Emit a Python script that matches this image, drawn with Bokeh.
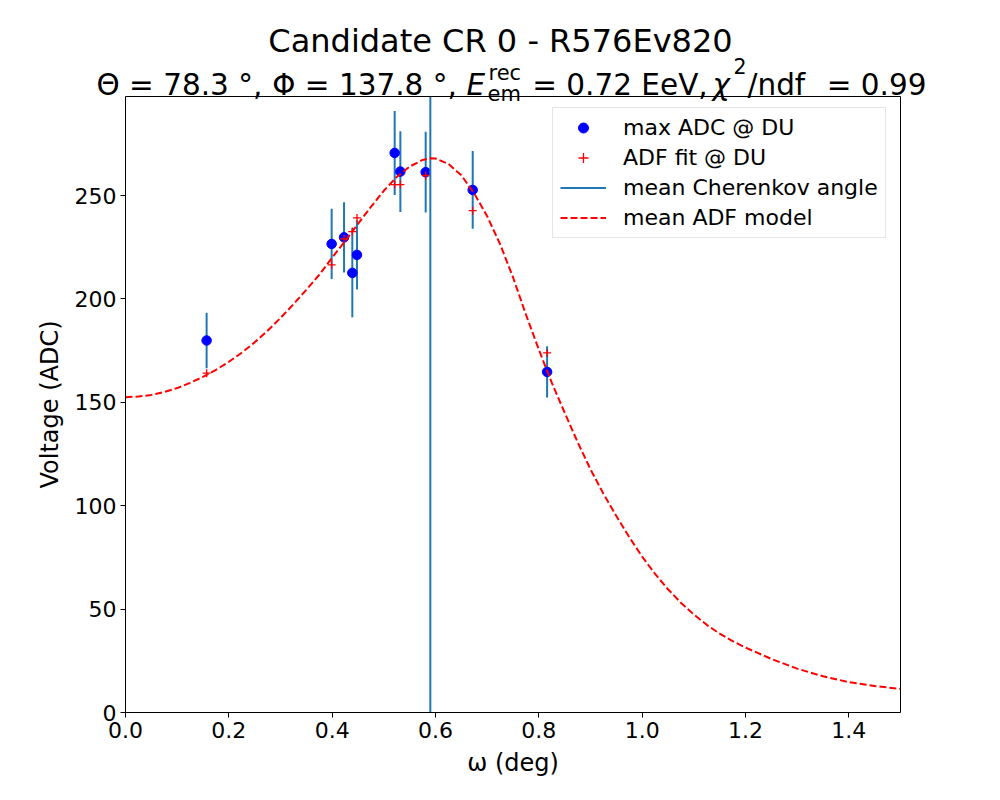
from bokeh.plotting import figure
from bokeh.models import (Range1d, FixedTicker, Label, Legend, LegendItem,
                          NumeralTickFormatter, LinearAxis)
from bokeh.embed import file_html
from bokeh.resources import INLINE

# ---------------- data ----------------
omega_du = [0.157, 0.399, 0.423, 0.439, 0.448, 0.521, 0.532, 0.581, 0.672, 0.816]
adc_max = [179.9, 226.6, 229.8, 212.6, 221.3, 270.6, 261.6, 261.3, 252.7, 164.7]
adc_err = [13.4, 17.0, 17.0, 21.5, 16.7, 20.3, 19.5, 19.5, 18.8, 12.4]
adf_fit = [164.1, 216.5, 229.0, 232.6, 239.2, 255.3, 255.3, 259.7, 242.7, 173.9]
cherenkov_angle = [0.590]

model_omega = [0.0, 0.025, 0.05, 0.075, 0.1, 0.125, 0.15, 0.175, 0.2, 0.225, 0.25, 0.275,
               0.3, 0.325, 0.35, 0.375, 0.4, 0.425, 0.45, 0.475, 0.5, 0.525, 0.55, 0.575,
               0.59, 0.6, 0.625, 0.65, 0.675, 0.7, 0.725, 0.75, 0.775, 0.8, 0.825, 0.85,
               0.875, 0.9, 0.925, 0.95, 0.975, 1.0, 1.025, 1.05, 1.075, 1.1, 1.125, 1.15,
               1.175, 1.2, 1.25, 1.3, 1.35, 1.4, 1.45, 1.5]
model_adc = [152.5, 152.8, 153.6, 155.0, 156.9, 159.4, 162.3, 165.7, 169.6, 174.0, 179.0, 184.6,
             190.8, 197.4, 204.4, 211.7, 220.0, 228.0, 236.3, 244.5, 252.3, 259.0, 264.0, 267.2,
             268.0, 267.9, 265.3, 259.8, 251.0, 240.0, 226.5, 210.5, 192.5, 175.5, 159.5, 145.0,
             130.8, 117.6, 105.8, 95.0, 84.8, 75.4, 67.0, 59.6, 53.1, 47.4, 42.4, 38.1,
             34.5, 31.4, 25.9, 21.2, 17.5, 14.7, 12.8, 11.4]

x_ticks = [0.0, 0.2, 0.4, 0.6, 0.8, 1.0, 1.2, 1.4]
y_ticks = [0, 50, 100, 150, 200, 250]

legend_labels = ["max ADC @ DU", "ADF fit @ DU", "mean Cherenkov angle", "mean ADF model"]

# ---------------- layout ----------------
X0, X1 = 0.0, 1.5           # axes box limits
Y0, Y1 = 0.0, 297.9
FONT = "DejaVu Sans"
W, H = 984, 792             # canvas
BOX_L, BOX_R = 125, 900     # axes box on the page (pixels)
BOX_T, BOX_B = 96, 712
KX = (BOX_R - BOX_L) / (X1 - X0)
KY = (BOX_B - BOX_T) / (Y1 - Y0)


def fx(px):
    return X0 + (px - BOX_L) / KX


def fy(py):
    return Y0 + (BOX_B - py) / KY


# the plotting frame covers the whole canvas; axes are drawn at fixed locations
p = figure(width=W, height=H,
           x_range=Range1d(fx(0), fx(W)), y_range=Range1d(fy(H), fy(0)),
           x_axis_type=None, y_axis_type=None,
           output_backend="svg", toolbar_location=None, min_border=0,
           background_fill_color="white", border_fill_color="white")
p.grid.visible = False
p.outline_line_color = None


def style_axis(ax):
    ax.major_label_text_font = FONT
    ax.major_label_text_font_size = "22px"
    ax.major_label_text_color = "black"
    ax.axis_label_text_font = FONT
    ax.axis_label_text_font_size = "24px"
    ax.axis_label_text_font_style = "normal"
    ax.axis_label_text_color = "black"
    ax.axis_label_standoff = 8
    ax.major_label_standoff = 4
    ax.major_tick_out = 5
    ax.major_tick_in = 0
    ax.minor_tick_out = 0
    ax.minor_tick_in = 0
    ax.axis_line_color = "black"
    ax.axis_line_width = 1
    ax.major_tick_line_color = "black"


xaxis = LinearAxis(fixed_location=Y0, bounds=(X0, X1), ticker=FixedTicker(ticks=x_ticks),
                   formatter=NumeralTickFormatter(format="0.0"), axis_label="ω (deg)")
yaxis = LinearAxis(fixed_location=X0, bounds=(Y0, Y1), ticker=FixedTicker(ticks=y_ticks),
                   axis_label="Voltage (ADC)")
top_spine = LinearAxis(fixed_location=Y1, bounds=(X0, X1), ticker=FixedTicker(ticks=[]))
right_spine = LinearAxis(fixed_location=X1, bounds=(Y0, Y1), ticker=FixedTicker(ticks=[]))
for ax in (xaxis, yaxis, top_spine, right_spine):
    style_axis(ax)
for ax in (top_spine, right_spine):
    ax.major_tick_out = 0
    ax.major_label_text_font_size = "0px"
p.add_layout(xaxis, "below")
p.add_layout(yaxis, "left")
p.add_layout(top_spine, "above")
p.add_layout(right_spine, "right")

# ---------------- marks ----------------
err_lo = [v - e for v, e in zip(adc_max, adc_err)]
err_hi = [v + e for v, e in zip(adc_max, adc_err)]
p.segment(x0=omega_du, y0=err_lo, x1=omega_du, y1=err_hi,
          line_color="#1f77b4", line_width=2)
r_pts = p.scatter(omega_du, adc_max, marker="circle", size=9.5,
                  fill_color="blue", line_color="blue")
r_fit = p.scatter(omega_du, adf_fit, marker="cross", size=8,
                  line_color="red", line_width=1.3)
r_ch = p.segment(x0=cherenkov_angle, y0=[Y0] * len(cherenkov_angle),
                 x1=cherenkov_angle, y1=[Y1] * len(cherenkov_angle),
                 line_color="#1f77b4", line_width=2)
r_mod = p.line(model_omega, model_adc, line_color="red", line_width=2, line_dash="7 3")

legend = Legend(items=[LegendItem(label=legend_labels[0], renderers=[r_pts]),
                       LegendItem(label=legend_labels[1], renderers=[r_fit]),
                       LegendItem(label=legend_labels[2], renderers=[r_ch]),
                       LegendItem(label=legend_labels[3], renderers=[r_mod])],
                location=(552, H - 238), margin=0, padding=7, spacing=5,
                glyph_width=46, glyph_height=25, label_height=25, label_standoff=17,
                label_text_font=FONT, label_text_font_size="22px", label_text_color="black",
                border_line_color="#cccccc", border_line_width=1,
                background_fill_color="white", background_fill_alpha=0.8)
p.add_layout(legend, "center")


# ---------------- titles ----------------
def add_text(txt, px, py, size, align="left", style="normal"):
    p.add_layout(Label(x=fx(px), y=fy(py), text=txt, text_font=FONT,
                       text_font_size=f"{size}px", text_align=align,
                       text_baseline="alphabetic", text_font_style=style,
                       text_color="black"))


add_text("Candidate CR 0 - R576Ev820", 500, 40, 32, align="center")
add_text("Θ = 78.3 °,", 96, 84, 29.5)
add_text("Φ = 137.8 °,", 271.7, 84, 29.5)
add_text("E", 466, 84, 29.5, style="italic")
add_text("rec", 488, 72, 21)
add_text("em", 487, 93, 21)
add_text("= 0.72 EeV,", 531.7, 84, 29.5)
add_text("χ", 712, 84, 29.5, style="italic")
add_text("2", 733, 65, 20.5)
add_text("/ndf", 747, 84, 29.5)
add_text("= 0.99", 926, 84, 29.5, align="right")

open("out.html", "w").write(file_html(p, INLINE))
